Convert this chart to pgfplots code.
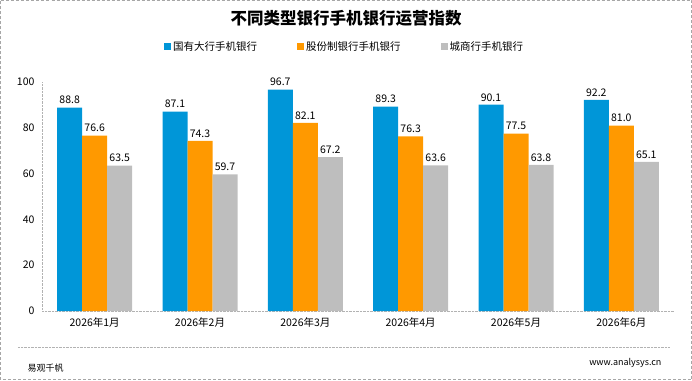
\documentclass[border=0pt]{standalone}
\usepackage{fontspec}
\setmainfont{Noto Sans CJK SC}
\usepackage{pgfplots}
\pgfplotsset{compat=1.18}
\definecolor{cblue}{HTML}{0096D8}
\definecolor{corange}{HTML}{FF9900}
\definecolor{cgray}{HTML}{BEBEBE}
\begin{document}
\begin{tikzpicture}[x=1pt,y=1pt]
\useasboundingbox (-42,-69) rectangle (650,311);
\draw[gray!70, densely dashed] (-41.5,-68.5) rectangle (649.5,310.5);
\begin{axis}[
  at={(0,0)}, anchor=south west,
  scale only axis, width=632pt, height=229pt,
  ymin=0, ymax=100, ytick={0,20,...,100},
  xmin=-0.5, xmax=5.5,
  xtick={0,...,5},
  xticklabels={2026年1月,2026年2月,2026年3月,2026年4月,2026年5月,2026年6月},
  ybar=0pt, bar width=25pt,
  axis lines*=left,
  axis line style={gray!60, densely dotted, -},
  major tick length=0pt,
  tick label style={font=\fontsize{10.5}{12}\selectfont, text=black},
  /pgf/number format/assume math mode=true,
  xticklabel style={yshift=-3pt},
  yticklabel style={xshift=-4pt},
  nodes near coords,
  nodes near coords style={font=\fontsize{10.5}{12}\selectfont, text=black, /pgf/number format/fixed, /pgf/number format/fixed zerofill, /pgf/number format/precision=1, /pgf/number format/assume math mode=true},
  legend style={at={(0.479,1.153)}, anchor=center, draw=none, fill=none,
    legend columns=3, font=\fontsize{10.5}{12}\selectfont,
    /tikz/every even column/.append style={column sep=38pt}},
  legend image code/.code={\fill[#1] (0pt,-3.5pt) rectangle (7pt,3.5pt);},
  clip=false,
]
\addplot[fill=cblue, draw=none] coordinates {(0,88.8) (1,87.1) (2,96.7) (3,89.3) (4,90.1) (5,92.2)};
\addplot[fill=corange, draw=none] coordinates {(0,76.6) (1,74.3) (2,82.1) (3,76.3) (4,77.5) (5,81.0)};
\addplot[fill=cgray, draw=none] coordinates {(0,63.5) (1,59.7) (2,67.2) (3,63.6) (4,63.8) (5,65.1)};
\legend{国有大行手机银行,股份制银行手机银行,城商行手机银行}
\end{axis}
\node[font=\bfseries\fontsize{16.5}{19}\selectfont] at (304,293) {不同类型银行手机银行运营指数};
\draw[gray!60, densely dotted] (-24,-36) -- (628,-36);
\node[anchor=west, font=\fontsize{9}{11}\selectfont] at (-18,-57) {易观千帆};
\node[anchor=east, font=\fontsize{9}{11}\selectfont] at (623,-52) {www.analysys.cn};
\end{tikzpicture}
\end{document}
